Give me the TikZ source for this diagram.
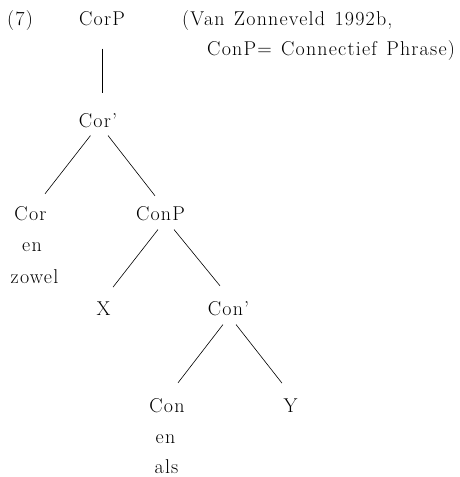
\documentclass[tikz,border=0pt]{standalone}
\usepackage{fontspec}
\setmainfont{Latin Modern Roman}[LetterSpace=6, WordSpace=1.3]
\usepackage{tikz}

\tikzset{
  lbl/.style={font=\fontsize{20}{24}\selectfont, inner sep=0pt, anchor=base},
  branch/.style={line width=0.6pt},
}

\begin{document}
\begin{tikzpicture}[x=1pt,y=1pt]
  \useasboundingbox (0,0) rectangle (459,-477);

  % number and source
  \node[lbl, anchor=base west] (num) at (7,-25) {(7)};
  \node[lbl, anchor=base west] (src) at (182,-25) {(Van Zonneveld 1992b,};
  \node[lbl, anchor=base west] (gloss) at (207,-55) {ConP= Connectief Phrase)};

  % tree nodes
  \node[lbl] (corp) at (102,-25) {CorP};
  \node[lbl] (corbar) at (98,-127) {Cor’};
  \node[lbl] (cor) at (30.5,-220) {Cor};
  \node[lbl] (coren) at (32,-251) {en};
  \node[lbl] (corzowel) at (34.5,-283) {zowel};
  \node[lbl] (conp) at (160.5,-220) {ConP};
  \node[lbl] (argx) at (103.5,-315) {X};
  \node[lbl] (conbar) at (228.5,-315) {Con’};
  \node[lbl] (con) at (167,-412) {Con};
  \node[lbl] (conen) at (165.5,-443) {en};
  \node[lbl] (conals) at (166.5,-473) {als};
  \node[lbl] (argy) at (290.5,-412) {Y};

  % branches
  \draw[branch] ([yshift=-23pt]corp.south) -- ([yshift=20pt]corp.south |- corbar.north);
  \draw[branch] ([shift={(-7.5,-8)}]corbar.south) -- ([shift={(14.5,12)}]cor.north);
  \draw[branch] ([shift={(10,-8)}]corbar.south) -- ([shift={(-5.5,10)}]conp.north);
  \draw[branch] ([shift={(-2.5,-9)}]conp.south) -- ([shift={(9.5,14)}]argx.north);
  \draw[branch] ([shift={(13.5,-9)}]conp.south) -- ([shift={(-8.5,15)}]conbar.north);
  \draw[branch] ([shift={(-5.5,-9)}]conbar.south) -- ([shift={(11,15)}]con.north);
  \draw[branch] ([shift={(7.5,-9)}]conbar.south) -- ([shift={(-8.5,15)}]argy.north);
\end{tikzpicture}
\end{document}
